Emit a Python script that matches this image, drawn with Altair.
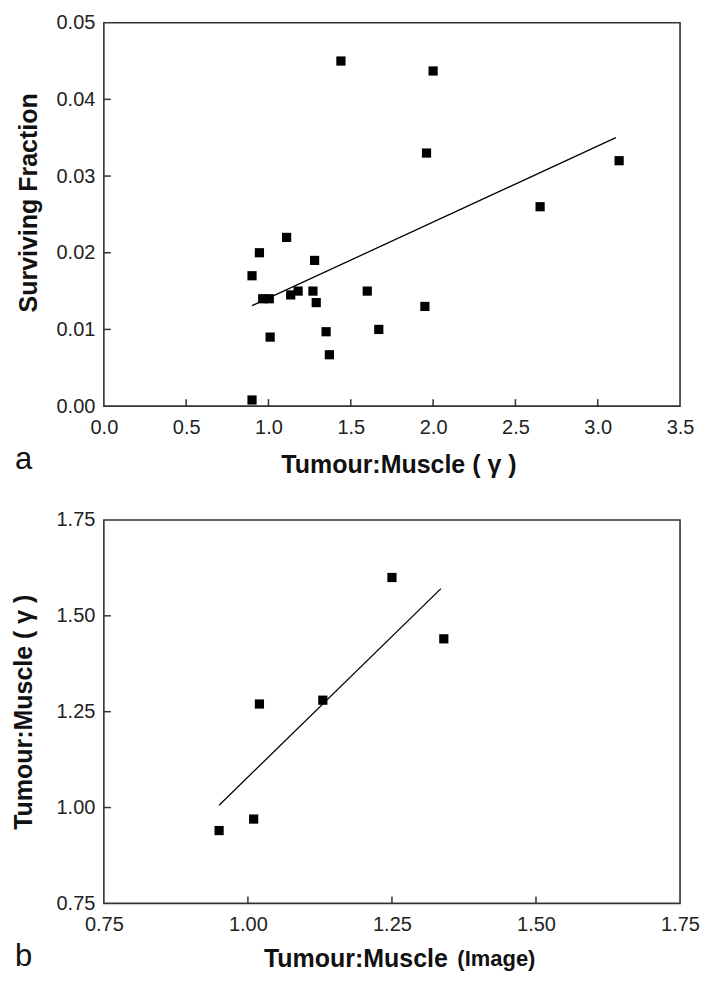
import altair as alt
import pandas as pd

# ---------------- Panel a data ----------------
a_ratio = [1.44, 2.00, 1.96, 3.13, 2.65, 1.11, 0.945, 1.28, 0.90, 1.27, 1.18, 1.60,
           1.135, 0.965, 1.005, 1.29, 1.95, 1.67, 1.35, 1.01, 1.37, 0.90]
a_sf = [0.0450, 0.0437, 0.0330, 0.0320, 0.0260, 0.0220, 0.0200, 0.0190, 0.0170, 0.0150,
        0.0150, 0.0150, 0.0145, 0.0140, 0.0140, 0.0135, 0.0130, 0.0100, 0.0097, 0.0090,
        0.0067, 0.0008]
a_fit_x = [0.90, 3.11]
a_fit_y = [0.0131, 0.0350]
a_xticks = [0.0, 0.5, 1.0, 1.5, 2.0, 2.5, 3.0, 3.5]
a_yticks = [0.00, 0.01, 0.02, 0.03, 0.04, 0.05]

# ---------------- Panel b data ----------------
b_image = [0.95, 1.01, 1.02, 1.13, 1.25, 1.34]
b_gamma = [0.94, 0.97, 1.27, 1.28, 1.60, 1.44]
b_fit_x = [0.95, 1.335]
b_fit_y = [1.006, 1.571]
b_ticks = [0.75, 1.00, 1.25, 1.50, 1.75]

W, H = 577, 384
FONT = "Liberation Sans"
INK = "#333333"


def panel(px, py, fx, fy, xticks, yticks, xfmt, yfmt, xtitle, ytitle,
          xtitle_x, xtitle_y, xtitle_align, ytitle_x, ytitle_y, letter, extra=None):
    xdom = [xticks[0], xticks[-1]]
    ydom = [yticks[0], yticks[-1]]
    xaxis = alt.Axis(values=xticks, format=xfmt, title=xtitle, grid=False, ticks=False,
                     tickSize=0, domain=False, labelFont=FONT, labelFontSize=20,
                     labelColor="#222", labelPadding=27, labelBaseline="alphabetic",
                     titleFont=FONT, titleFontSize=25, titleFontWeight="bold",
                     titleColor="#111", titleX=xtitle_x, titleY=xtitle_y,
                     titleAlign=xtitle_align, titleBaseline="alphabetic",
                     labelFlush=False, labelOverlap=False)
    yaxis = alt.Axis(values=yticks, format=yfmt, title=ytitle, grid=False, ticks=False,
                     tickSize=0, domain=False, labelFont=FONT, labelFontSize=20,
                     labelColor="#222", labelPadding=9, titleFont=FONT, titleFontSize=25,
                     titleFontWeight="bold", titleColor="#111", titleX=ytitle_x,
                     titleY=ytitle_y, titleAngle=-90, titleAlign="center",
                     titleBaseline="alphabetic", labelFlush=False, labelOverlap=False)
    X = lambda f: alt.X(f, type="quantitative", scale=alt.Scale(domain=xdom, nice=False, zero=False), axis=xaxis)
    Y = lambda f: alt.Y(f, type="quantitative", scale=alt.Scale(domain=ydom, nice=False, zero=False), axis=yaxis)

    pts = alt.Chart(pd.DataFrame({"x": px, "y": py})).mark_square(
        size=85, color="black", opacity=1).encode(x=X("x"), y=Y("y"))
    fit = alt.Chart(pd.DataFrame({"x": fx, "y": fy})).mark_line(
        color="black", strokeWidth=1.3).encode(x=X("x"), y=Y("y"))
    xt = alt.Chart(pd.DataFrame({"x": xticks[1:-1]})).mark_rule(
        color=INK, strokeWidth=1.5).encode(x=X("x"), y=alt.value(H), y2=alt.value(H - 7))
    yt = alt.Chart(pd.DataFrame({"y": yticks[1:-1]})).mark_rule(
        color=INK, strokeWidth=1.5).encode(y=Y("y"), x=alt.value(0), x2=alt.value(7))
    lab = alt.Chart(pd.DataFrame({"t": [letter]})).mark_text(
        font=FONT, fontSize=31, align="left", baseline="alphabetic", color="#111").encode(
        text="t:N", x=alt.value(-89), y=alt.value(H + 63))
    layers = [xt, yt, fit, pts, lab]
    if extra is not None:
        layers.append(extra)
    return alt.layer(*layers).properties(width=W, height=H)


image_txt = alt.Chart(pd.DataFrame({"t": ["(Image)"]})).mark_text(
    font=FONT, fontSize=22, fontWeight="bold", align="left", baseline="alphabetic",
    color="#111").encode(text="t:N", x=alt.value(354), y=alt.value(H + 63))

pa = panel(a_ratio, a_sf, a_fit_x, a_fit_y, a_xticks, a_yticks, ".1f", ".2f",
           "Tumour:Muscle ( γ )", "Surviving Fraction",
           295, 66, "center", -67, 180, "a")
pb = panel(b_image, b_gamma, b_fit_x, b_fit_y, b_ticks, b_ticks, ".2f", ".2f",
           "Tumour:Muscle", "Tumour:Muscle ( γ )",
           344, 63, "right", -72, 192, "b", extra=image_txt)

chart = alt.vconcat(pa, pb, spacing=114, bounds="flush").properties(
    padding={"left": 3, "top": 3, "right": 5, "bottom": 5},
    background="white",
).configure_view(stroke=INK, strokeWidth=1.6)

chart.save("out.html", embed_options={"renderer": "svg", "actions": False})
